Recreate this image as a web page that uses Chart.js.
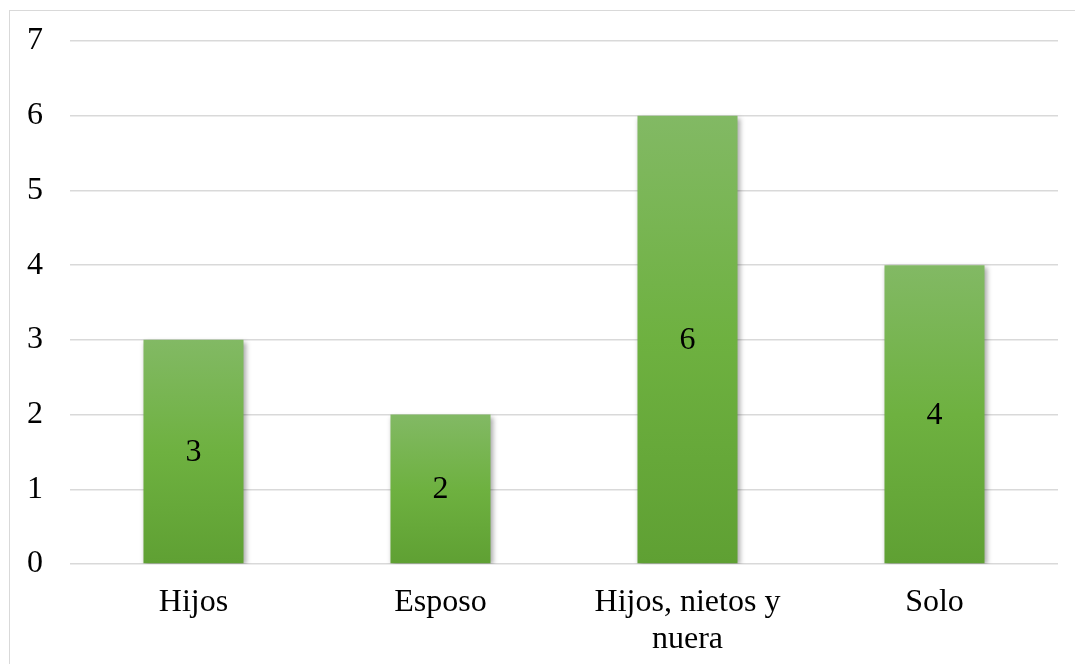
<!DOCTYPE html>
<html>
<head>
<meta charset="utf-8">
<script src="https://cdn.jsdelivr.net/npm/chart.js@4"></script>
<style>
  html, body { margin: 0; padding: 0; background: #fff; }
  #wrap { position: relative; width: 1075px; height: 664px; overflow: hidden; }
  #frame { position: absolute; left: 9px; top: 10px; width: 1100px; height: 700px; border: 1.5px solid #d9d9d9; box-sizing: border-box; }
  canvas { position: absolute; left: 0; top: 0; }
</style>
</head>
<body>
<div id="wrap">
  <div id="frame"></div>
  <canvas id="chart" width="1075" height="664"></canvas>
</div>
<script>
// convivencia: con quién vive cada persona
const categorias = ['Hijos', 'Esposo', ['Hijos, nietos y', 'nuera'], 'Solo'];
const personas = [3, 2, 6, 4];
const escalaMax = 7;

const fuente = { family: '"Liberation Serif", "Times New Roman", serif', size: 32 };

// degradado vertical para cada barra
function degradado(context) {
  const chart = context.chart;
  const y = chart.scales.y;
  if (!y || context.type !== 'data') return '#6aab3e';
  const top = y.getPixelForValue(context.parsed.y);
  const base = y.getPixelForValue(0);
  if (!isFinite(top) || !isFinite(base) || top === base) return '#6aab3e';
  const g = chart.ctx.createLinearGradient(0, top, 0, base);
  g.addColorStop(0, '#82b964');
  g.addColorStop(0.5, '#6eb140');
  g.addColorStop(1, '#5fa033');
  return g;
}

// sombra suave detrás de las barras
const sombra = {
  id: 'sombra',
  beforeDatasetsDraw(chart) {
    const ctx = chart.ctx;
    ctx.save();
    ctx.shadowColor = 'rgba(0,0,0,0.35)';
    ctx.shadowBlur = 5;
    ctx.shadowOffsetX = 2;
    ctx.shadowOffsetY = 2;
  },
  afterDatasetsDraw(chart) {
    chart.ctx.restore();
  }
};

// valor en el centro de cada barra
const etiquetas = {
  id: 'etiquetas',
  afterDatasetsDraw(chart) {
    const ctx = chart.ctx;
    const meta = chart.getDatasetMeta(0);
    ctx.save();
    ctx.font = fuente.size + 'px ' + fuente.family;
    ctx.fillStyle = '#000';
    ctx.textAlign = 'center';
    ctx.textBaseline = 'middle';
    meta.data.forEach((bar, i) => {
      const mid = (bar.y + bar.base) / 2;
      ctx.fillText(String(personas[i]), bar.x, mid + 1);
    });
    ctx.restore();
  }
};

new Chart(document.getElementById('chart'), {
  type: 'bar',
  data: {
    labels: categorias,
    datasets: [{
      data: personas,
      backgroundColor: degradado,
      borderWidth: 0,
      barPercentage: 0.81,
      categoryPercentage: 0.5
    }]
  },
  options: {
    responsive: false,
    animation: false,
    events: [],
    layout: { padding: { top: 41, right: 17, left: 0, bottom: 0 } },
    plugins: { legend: { display: false }, tooltip: { enabled: false } },
    scales: {
      x: {
        grid: { display: false, drawTicks: false },
        border: { display: false },
        ticks: { color: '#000', font: { ...fuente, lineHeight: 1.15 }, padding: 20, maxRotation: 0, autoSkip: false },
        afterFit(s) { s.height = 100; s.paddingLeft = 0; s.paddingRight = 0; }
      },
      y: {
        min: 0,
        max: escalaMax,
        grid: { color: '#d9d9d9', lineWidth: 1.5, drawTicks: false },
        border: { display: false },
        ticks: { stepSize: 1, color: '#000', font: fuente, padding: 27 },
        afterFit(s) { s.width = 70; s.paddingTop = 0; s.paddingBottom = 0; }
      }
    }
  },
  plugins: [sombra, etiquetas]
});
</script>
</body>
</html>
